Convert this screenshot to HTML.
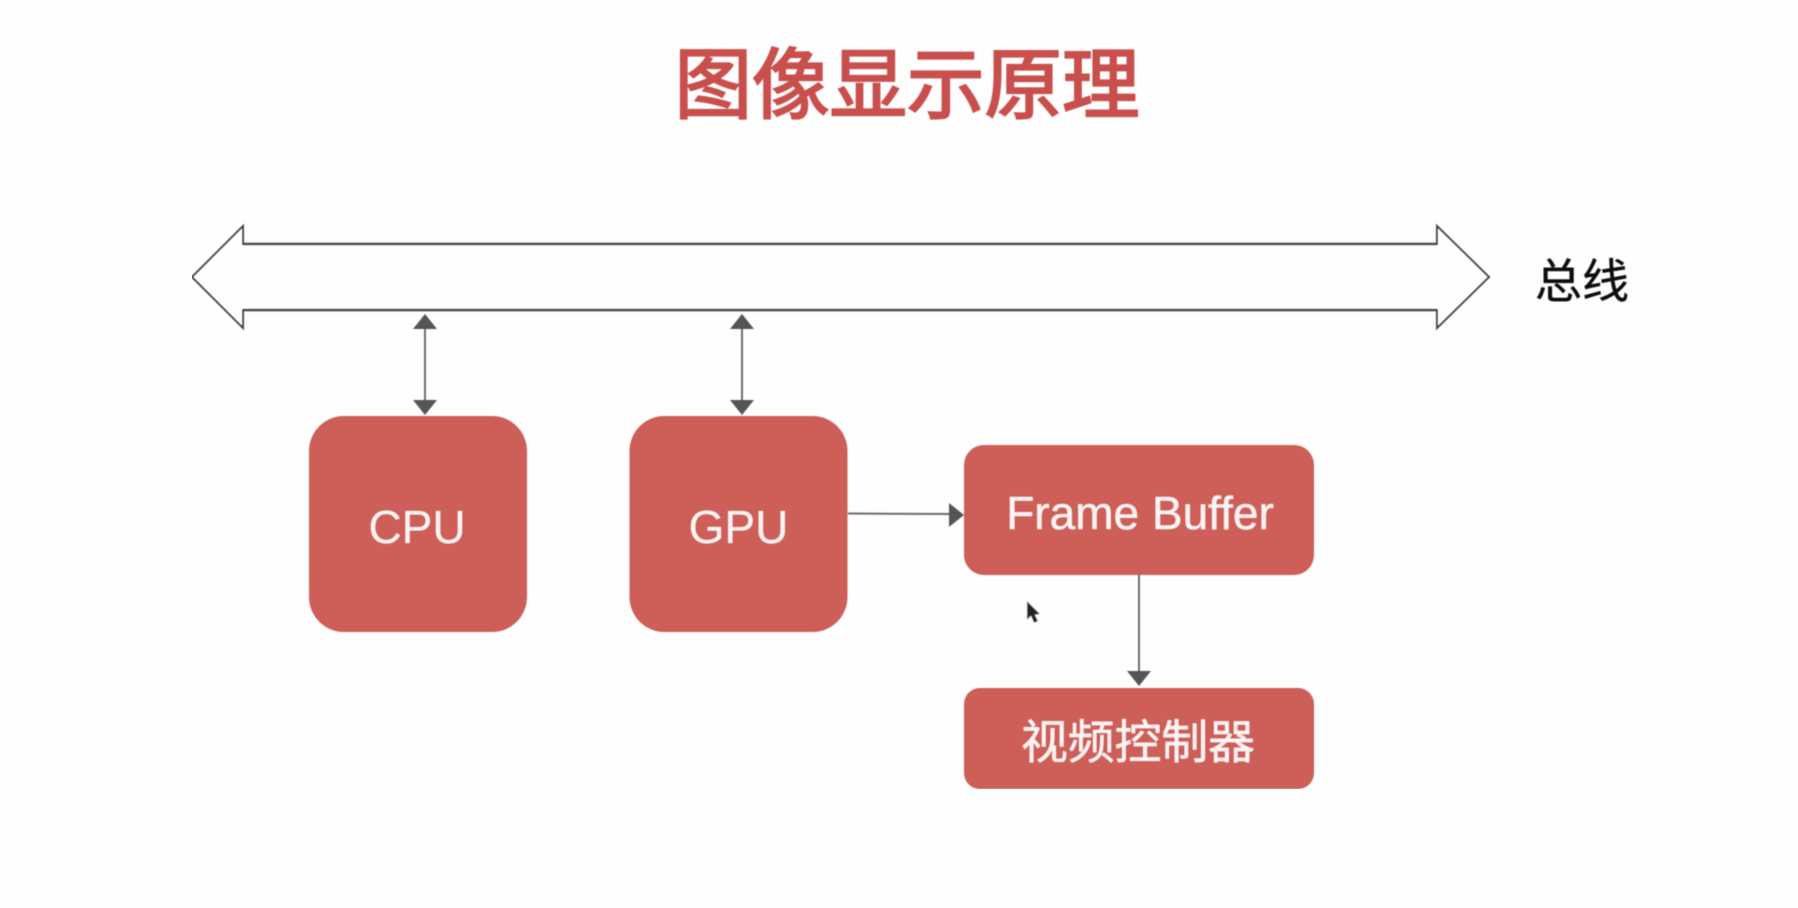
<!DOCTYPE html>
<html lang="zh">
<head>
<meta charset="utf-8">
<style>
html,body{margin:0;padding:0;background:#fefefe;width:1798px;height:908px;overflow:hidden}
svg{display:block}
text{font-family:"Liberation Sans","Noto Sans CJK SC",sans-serif}
</style>
</head>
<body>
<svg width="1798" height="908" viewBox="0 0 1798 908" xmlns="http://www.w3.org/2000/svg">
<rect width="1798" height="908" fill="#fefefe"/>
<g filter="url(#soft)">
<text x="907" y="112" text-anchor="middle" font-size="77.5" font-weight="400" fill="#c94f4d" stroke="#c94f4d" stroke-width="2.2">图像显示原理</text>
<polygon points="192,277 243,226 243,244 1437,244 1437,226 1489,277 1437,328 1437,310 243,310 243,328" fill="#fefefe" stroke="#444" stroke-width="2"/>
<line x1="243" y1="244" x2="1437" y2="244" stroke="#444" stroke-width="2.6"/>
<line x1="243" y1="310" x2="1437" y2="310" stroke="#444" stroke-width="2.4"/>
<text x="1535" y="298" font-size="47" fill="#111" stroke="#111" stroke-width="0.4">总线</text>

<line x1="425" y1="328" x2="425" y2="402" stroke="#6a6a6a" stroke-width="2"/>
<polygon points="425,314 437,329 413,329" fill="#555"/>
<polygon points="425,415 437,400 413,400" fill="#555"/>
<line x1="742" y1="328" x2="742" y2="402" stroke="#6a6a6a" stroke-width="2"/>
<polygon points="742,314 754,329 730,329" fill="#555"/>
<polygon points="742,415 754,400 730,400" fill="#555"/>

<rect x="309" y="416" width="218" height="216" rx="35" ry="35" fill="#cd5f59"/>
<text x="417" y="543" text-anchor="middle" font-size="46" fill="#fdf3f2">CPU</text>
<rect x="629.5" y="416" width="218" height="216" rx="35" ry="35" fill="#cd5f59"/>
<text x="738.5" y="543" text-anchor="middle" font-size="46" fill="#fdf3f2">GPU</text>

<line x1="848" y1="513.5" x2="950" y2="514" stroke="#6a6a6a" stroke-width="2"/>
<polygon points="964,515 949,503 949,527" fill="#555"/>

<rect x="964" y="445" width="350" height="130" rx="20" ry="20" fill="#cd5f59"/>
<text x="1140" y="529" text-anchor="middle" font-size="46" fill="#fdf3f2" stroke="#fdf3f2" stroke-width="0.3">Frame Buffer</text>

<line x1="1139" y1="574" x2="1139" y2="672" stroke="#6a6a6a" stroke-width="2"/>
<polygon points="1139,686 1151,671 1127,671" fill="#555"/>

<rect x="964" y="688" width="350" height="101" rx="16" ry="16" fill="#cd5f59"/>
<text x="1138" y="758.5" text-anchor="middle" font-size="46.8" fill="#fdf3f2" stroke="#fdf3f2" stroke-width="0.4">视频控制器</text>

<polygon points="1027,601 1027,620 1031,616 1034,623 1038,621 1035,615 1040,614" fill="#222" stroke="#ddd" stroke-width="0.6"/>
</g>
<defs>
<filter id="soft" x="0" y="0" width="100%" height="100%"><feGaussianBlur stdDeviation="0.5"/></filter>
</defs>
</svg>
</body>
</html>
